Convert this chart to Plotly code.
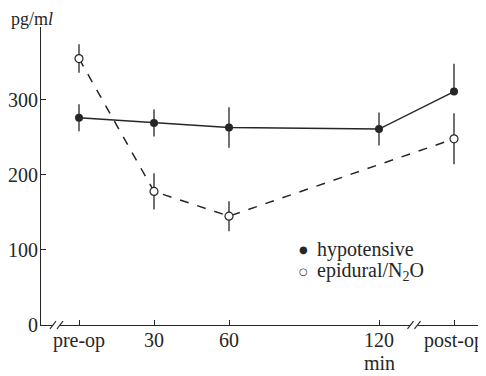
import plotly.graph_objects as go

# ---- data ----
tick_vals = [0, 30, 60, 120, 150]
tick_text = ["pre-op", "30", "60", "120", "post-op"]

hypo_x = [0, 30, 60, 120, 150]
hypo_y = [276, 269, 263, 261, 311]
hypo_err_plus = [18, 18, 27, 22, 37]
hypo_err_minus = [18, 18, 27, 22, 0]

epi_x = [0, 30, 60, 150]
epi_y = [355, 178, 145, 248]
epi_err = [19, 24, 20, 34]

y_ticks = [0, 100, 200, 300]

series_names = ["hypotensive", "epidural/N<sub>2</sub>O"]

INK = "#262626"
FONT = "Liberation Serif, Times New Roman, serif"
FS = 20

fig = go.Figure()

fig.add_trace(go.Scatter(
    x=epi_x, y=epi_y, mode="lines+markers", name=series_names[1], showlegend=False,
    line=dict(color=INK, width=1.5, dash="dash"),
    marker=dict(symbol="circle", size=8, color="white", line=dict(color=INK, width=1.2)),
    error_y=dict(type="data", array=epi_err, symmetric=True, color=INK, thickness=1.3, width=0),
    cliponaxis=False,
))
fig.add_trace(go.Scatter(
    x=hypo_x, y=hypo_y, mode="lines+markers", name=series_names[0], showlegend=False,
    line=dict(color=INK, width=1.5),
    marker=dict(symbol="circle", size=8, color=INK),
    error_y=dict(type="data", array=hypo_err_plus, arrayminus=hypo_err_minus,
                 symmetric=False, color=INK, thickness=1.3, width=0),
    cliponaxis=False,
))

# axis break marks
shapes = []
for bx in (-9, 134):
    shapes.append(dict(type="rect", xref="x", yref="paper", x0=bx - 1.4, x1=bx + 1.4,
                       y0=-0.006, y1=0.006, fillcolor="white", line=dict(width=0), layer="above"))
    for dx in (-1.4, 1.4):
        shapes.append(dict(type="line", xref="x", yref="paper",
                           x0=bx + dx - 1.2, x1=bx + dx + 1.2, y0=-0.013, y1=0.013,
                           line=dict(color=INK, width=1.1), layer="above"))

# legend drawn as text entries
legend_glyphs = ["●", "○"]
legend_y = [0.255, 0.180]
annotations = []
for glyph, name, ly in zip(legend_glyphs, series_names, legend_y):
    annotations.append(dict(text=glyph, xref="paper", yref="paper", x=0.591, y=ly,
                            xanchor="center", yanchor="middle", showarrow=False,
                            font=dict(family="DejaVu Sans", size=10, color=INK)))
    annotations.append(dict(text=name, xref="paper", yref="paper", x=0.616, y=ly,
                            xanchor="left", yanchor="middle", showarrow=False,
                            font=dict(family=FONT, size=20, color=INK)))
annotations += [
    dict(text="pg/m<i>l</i>", xref="paper", yref="paper", x=-0.072, y=1.066,
         xanchor="left", yanchor="top", showarrow=False,
         font=dict(family=FONT, size=18, color=INK)),
    dict(text="min", xref="x", yref="paper", x=120, y=-0.085,
         xanchor="center", yanchor="top", showarrow=False,
         font=dict(family=FONT, size=FS, color=INK)),
]

fig.update_layout(
    width=486, height=376,
    margin=dict(l=33, r=8, t=19, b=59, autoexpand=False),
    paper_bgcolor="white", plot_bgcolor="white",
    font=dict(family=FONT, size=FS, color=INK),
    showlegend=False,
    xaxis=dict(range=[-15.2, 162.8], tickvals=tick_vals, ticktext=tick_text,
               showgrid=False, zeroline=False, showline=True, linecolor=INK, linewidth=1,
               ticks="inside", ticklen=5, tickcolor=INK, tickwidth=1, automargin=False,
               ticklabelstandoff=-3,
               tickfont=dict(family=FONT, size=FS, color=INK)),
    yaxis=dict(range=[0, 397], tickvals=y_ticks,
               showgrid=False, zeroline=False, showline=True, linecolor=INK, linewidth=1,
               ticks="inside", ticklen=5, tickcolor=INK, tickwidth=1, automargin=False,
               ticklabelstandoff=-2,
               tickfont=dict(family=FONT, size=FS, color=INK)),
    shapes=shapes,
    annotations=annotations,
)

fig.write_html("out.html")
